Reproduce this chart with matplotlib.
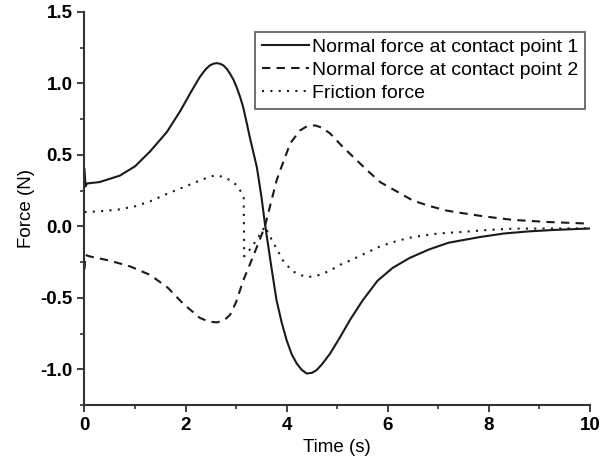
import numpy as np
import matplotlib
matplotlib.use('Agg')
from matplotlib import pyplot as plt
from matplotlib.ticker import MultipleLocator

plt.rcParams['font.family'] = ['Liberation Sans', 'DejaVu Sans']

# normal force at contact point 1
t1 = [0.0, 0.02, 0.05, 0.3, 0.7, 1.0, 1.3, 1.63, 1.9, 2.09, 2.28, 2.4, 2.48, 2.55,
      2.615, 2.68, 2.75, 2.82, 2.88, 2.95, 3.01, 3.08, 3.14, 3.2, 3.27, 3.34, 3.41,
      3.5, 3.57, 3.7, 3.8, 3.9, 4.0, 4.1, 4.2, 4.3, 4.4, 4.5, 4.59, 4.7, 4.86, 5.05,
      5.25, 5.5, 5.8, 6.1, 6.44, 6.83, 7.2, 7.43, 7.82, 8.3, 8.8, 9.3, 10.0]
f1 = [0.40, 0.28, 0.30, 0.31, 0.355, 0.42, 0.525, 0.66, 0.81, 0.93, 1.044, 1.10,
      1.126, 1.138, 1.142, 1.138, 1.126, 1.10, 1.068, 1.025, 0.974, 0.905, 0.834,
      0.74, 0.625, 0.52, 0.415, 0.21, 0.02, -0.29, -0.517, -0.67, -0.797, -0.895,
      -0.96, -1.005, -1.03, -1.025, -1.007, -0.965, -0.89, -0.78, -0.657, -0.52,
      -0.38, -0.29, -0.22, -0.16, -0.115, -0.10, -0.075, -0.05, -0.035, -0.025,
      -0.015]

# normal force at contact point 2
t2 = [0.0, 0.02, 0.1, 0.5, 0.9, 1.3, 1.65, 1.95, 2.28, 2.45, 2.55, 2.62, 2.7, 2.8,
      2.88, 3.0, 3.14, 3.28, 3.41, 3.57, 3.8, 3.87, 4.07, 4.26, 4.4, 4.49, 4.58,
      4.7, 4.86, 5.1, 5.32, 5.6, 5.85, 6.2, 6.5, 6.85, 7.17, 7.43, 7.9, 8.48, 9.2,
      10.0]
f2 = [-0.30, -0.20, -0.21, -0.24, -0.28, -0.34, -0.43, -0.54, -0.64, -0.665,
      -0.67, -0.672, -0.665, -0.645, -0.62, -0.53, -0.38, -0.26, -0.145, 0.0, 0.32,
      0.39, 0.58, 0.67, 0.70, 0.706, 0.705, 0.69, 0.65, 0.56, 0.485, 0.39, 0.31,
      0.24, 0.18, 0.14, 0.11, 0.095, 0.07, 0.045, 0.03, 0.019]

# friction force
t3 = [0.0, 0.3, 0.66, 1.0, 1.3, 1.65, 2.0, 2.28, 2.5, 2.62, 2.8, 3.01, 3.1, 3.15,
      3.16, 3.3, 3.45, 3.57, 3.7, 3.93, 4.1, 4.26, 4.43, 4.65, 4.86, 5.05, 5.25,
      5.55, 5.85, 6.2, 6.5, 7.0, 7.43, 8.0, 8.48, 9.2, 10.0]
f3 = [0.10, 0.105, 0.117, 0.14, 0.175, 0.23, 0.28, 0.32, 0.35, 0.357, 0.34, 0.29,
      0.24, 0.20, -0.21, -0.15, -0.07, 0.0, -0.09, -0.24, -0.31, -0.34, -0.355,
      -0.34, -0.31, -0.27, -0.24, -0.19, -0.14, -0.10, -0.075, -0.05, -0.04,
      -0.025, -0.016, -0.015, -0.014]

fig = plt.figure(figsize=(6.1, 4.61), dpi=100)
ax = fig.add_axes([0.1385, 0.1215, 0.8285, 0.8525])

col = '#1a1a1a'
ax.plot(t1, f1, color=col, lw=1.5, ls='-', label='Normal force at contact point 1')
ax.plot(t2, f2, color=col, lw=1.5, ls=(0, (4, 3)), label='Normal force at contact point 2')
ax.plot(t3, f3, color=col, lw=1.5, ls=(0, (1, 3)), label='Friction force')

ax.set_xlim(0, 10)
ax.set_ylim(-1.25, 1.5)
ax.xaxis.set_major_locator(MultipleLocator(2))
ax.xaxis.set_minor_locator(MultipleLocator(1))
ax.yaxis.set_minor_locator(MultipleLocator(0.25))
ax.set_yticks([-1.0, -0.5, 0.0, 0.5, 1.0, 1.5])
ax.set_yticklabels(['-1.0', '-0.5', '0.0', '0.5', '1.0', '1.5'])

for s in ['top', 'right']:
    ax.spines[s].set_visible(False)
for s in ['left', 'bottom']:
    ax.spines[s].set_linewidth(1.5)
    ax.spines[s].set_color('#333333')

ax.tick_params(which='major', direction='out', length=5, width=1.3, color='#333333',
               labelsize=13.5)
ax.tick_params(which='minor', direction='out', length=3, width=1.2, color='#333333')
for lab in ax.get_xticklabels() + ax.get_yticklabels():
    lab.set_fontweight('bold')

ax.set_xlabel('Time (s)', fontsize=13.5)
ax.set_ylabel('Force (N)', fontsize=13.5)

leg = ax.legend(loc='upper right', bbox_to_anchor=(0.99, 0.95), fontsize=14,
                fancybox=False, framealpha=1, edgecolor='#555555',
                handlelength=2.4, handletextpad=0.15, labelspacing=0.28,
                borderpad=0.35, borderaxespad=0.0)
leg.get_frame().set_linewidth(1.2)

fig.savefig('out.png', dpi=100)
